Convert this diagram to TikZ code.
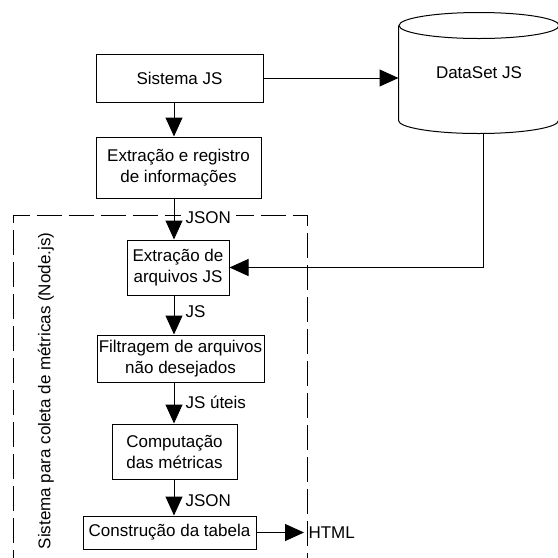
\documentclass[tikz,border=0pt]{standalone}
\usepackage{fontspec}
\setmainfont{Liberation Sans}
\usetikzlibrary{arrows.meta}

\begin{document}
\begin{tikzpicture}[x=1pt,y=-1pt,>={Triangle[length=19pt,width=17pt]},
	line width=1pt, font=\fontsize{17}{21}\selectfont,
	bloco/.style={draw,rectangle,inner sep=0pt,align=center},
	rotulo/.style={anchor=west,fill=white,inner xsep=5pt,inner ysep=1pt},
	moldura/.style={draw,dash pattern=on 25pt off 7pt}]
	\useasboundingbox (0,0) rectangle (558,558);
	
	% moldura tracejada
	\draw[moldura] (13,575) -- (13,215) -- (307,215) -- (307,575);
	\node[rotate=90] (coleta) at (46,391) {Sistema para coleta de métricas (Node.js)};
	
	% blocos
	\node[bloco, minimum width=167pt, minimum height=48pt] (sis) at (179.5,78) {Sistema JS};
	\node[bloco, minimum width=165pt, minimum height=61pt] (ext) at (178.5,167.5) {Extração e registro\\de informações};
	\node[bloco, minimum width=102pt, minimum height=55pt] (arq) at (178,267.5) {Extração de\\arquivos JS};
	\node[bloco, minimum width=167pt, minimum height=47pt] (fil) at (180.5,358.5) {Filtragem de arquivos\\não desejados};
	\node[bloco, minimum width=125pt, minimum height=55pt] (comp) at (174.5,451.5) {Computação\\das métricas};
	\node[bloco, minimum width=173pt, minimum height=33pt] (con) at (169.5,532.5) {Construção da tabela};
	
	% dataset
	\node[minimum width=160pt, minimum height=120pt] (ds) at (479,73) {DataSet JS};
	\draw ([yshift=-13pt]ds.north west) -- ([yshift=13pt]ds.south west)
		arc[start angle=180, end angle=360, x radius=80pt, y radius=13pt]
		-- ([yshift=-13pt]ds.north east);
	\draw ([yshift=-13pt]ds.north) ellipse [x radius=80pt, y radius=13pt];
	
	% rotulos
	\node[rotulo] (json1) at (180,218) {JSON};
	\node[rotulo, fill=none] (js) at (180,312) {JS};
	\node[rotulo, fill=none] (uteis) at (180,402) {JS úteis};
	\node[rotulo, fill=none] (json2) at (180,501) {JSON};
	\node[anchor=west, inner sep=4pt] (html) at (304,532.5) {HTML};
	
	% setas
	\coordinate (eixo) at (174,0);
	\draw [->] (sis.south -| eixo) -- (ext.north -| eixo);
	\draw [->] (ext.south -| eixo) -- (arq.north -| eixo);
	\draw [->] (arq.south -| eixo) -- (fil.north -| eixo);
	\draw [->] (fil.south -| eixo) -- (comp.north -| eixo);
	\draw [->] (comp.south -| eixo) -- (con.north -| eixo);
	\draw [->] (con.east) -- (html.west);
	\draw [->] (sis.east) -- (sis.east -| ds.west);
	\draw [->] ([xshift=4pt]ds.south) |- (arq.east);
\end{tikzpicture}
\end{document}
